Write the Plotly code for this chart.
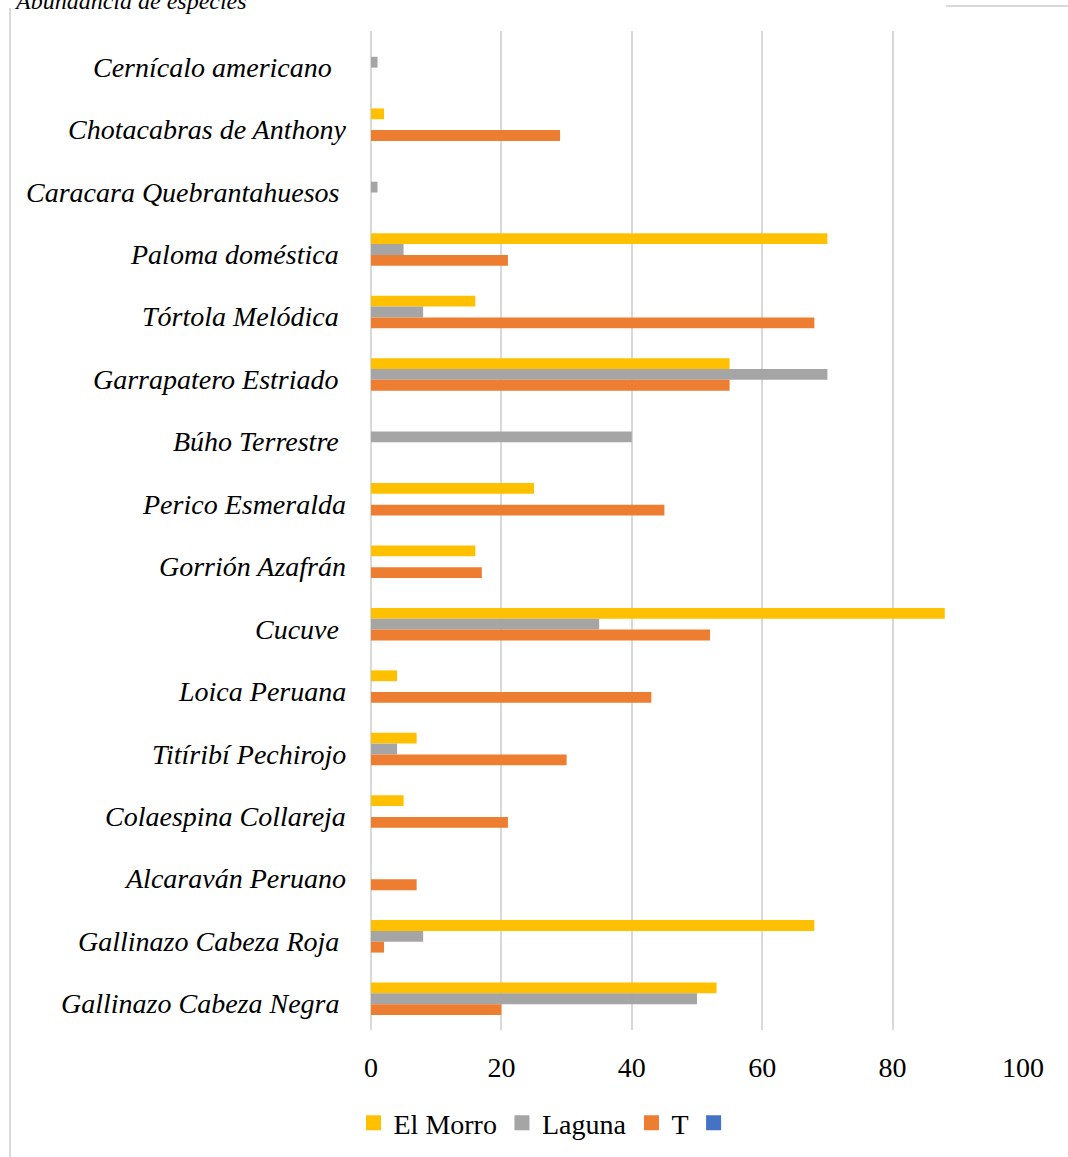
import plotly.graph_objects as go

categories = [
    "Cernícalo americano", "Chotacabras de Anthony", "Caracara Quebrantahuesos",
    "Paloma doméstica", "Tórtola Melódica", "Garrapatero Estriado", "Búho Terrestre",
    "Perico Esmeralda", "Gorrión Azafrán", "Cucuve", "Loica Peruana",
    "Titíribí Pechirojo", "Colaespina Collareja", "Alcaraván Peruano",
    "Gallinazo Cabeza Roja", "Gallinazo Cabeza Negra",
]
# trailing spaces as in the original labels
label_pad = [2, 0, 1, 1, 1, 1, 1, 0, 0, 1, 0, 0, 0, 0, 1, 1]

el_morro = [None, 2, None, 70, 16, 55, None, 25, 16, 88, 4, 7, 5, None, 68, 53]
laguna   = [1, None, 1, 5, 8, 70, 40, None, None, 35, None, 4, None, None, 8, 50]
t_vals   = [None, 29, None, 21, 68, 55, None, 45, 17, 52, 43, 30, 21, 7, 2, 20]

series_names = ["El Morro", "Laguna", "T", " "]
series_colors = ["#FFC000", "#A5A5A5", "#ED7D31", "#4472C4"]
x_ticks = [0, 20, 40, 60, 80, 100]

W, H = 1068, 1157
L, R, T, B = 371, 45, 31, 127
pw, ph = W - L - R, H - T - B

def px_x(p):
    return (p - L) / pw

def px_y(p):
    return (H - B - p) / ph

fig = go.Figure()
for name, vals, col in zip(series_names[:3], [el_morro, laguna, t_vals], series_colors[:3]):
    fig.add_trace(go.Bar(name=name, y=categories, x=vals, orientation="h",
                         marker=dict(color=col, line=dict(width=0)), showlegend=False))
# legend entries
for name, col in zip(series_names, series_colors):
    fig.add_trace(go.Scatter(name=name, x=[None], y=[None], yaxis="y2", mode="markers",
                             marker=dict(symbol="square", size=15, color=col)))

for c, p in zip(categories, label_pad):
    fig.add_annotation(text="<i>" + c + "\u00a0" * p + "</i>", xref="paper", yref="y",
                       x=px_x(348), y=c, xanchor="right", yanchor="middle", yshift=-5,
                       showarrow=False, font=dict(size=28, color="#000000"))

fig.update_layout(
    width=W, height=H,
    margin=dict(l=L, r=R, t=T, b=B, autoexpand=False),
    paper_bgcolor="white", plot_bgcolor="white",
    barmode="group", bargap=0.48, bargroupgap=0,
    font=dict(family="Liberation Serif, Times New Roman, serif", size=28, color="#000000"),
    xaxis=dict(range=[0, 100], tickvals=x_ticks, showgrid=True, gridcolor="#D9D9D9",
               gridwidth=1.5, zeroline=True, zerolinecolor="#D9D9D9", zerolinewidth=1.5,
               showline=False, ticks="", ticklabelstandoff=18,
               tickfont=dict(size=28, color="#000000")),
    yaxis=dict(categoryorder="array", categoryarray=categories, autorange="reversed",
               showticklabels=False, ticks="", showgrid=False, showline=False),
    yaxis2=dict(overlaying="y", visible=False),
    legend=dict(orientation="h", xref="container", x=0.515, xanchor="center",
                yref="container", y=(H - 1123) / H, yanchor="middle",
                font=dict(size=28, color="#000000"), itemwidth=30,
                traceorder="normal"),
    showlegend=True,
)

fig.add_annotation(text="<i>Abundancia de especies</i>", xref="paper", yref="paper",
                   x=px_x(12), y=px_y(0), xanchor="left", yanchor="middle", yshift=-1,
                   showarrow=False, font=dict(size=24, color="#000000"))

fig.add_shape(type="line", xref="paper", yref="paper", x0=px_x(10), x1=px_x(10),
              y0=px_y(8), y1=px_y(1160), line=dict(color="#D9D9D9", width=2))
fig.add_shape(type="line", xref="paper", yref="paper", x0=px_x(946), x1=px_x(1070),
              y0=px_y(6), y1=px_y(6), line=dict(color="#D9D9D9", width=2))

fig.write_html("out.html")
